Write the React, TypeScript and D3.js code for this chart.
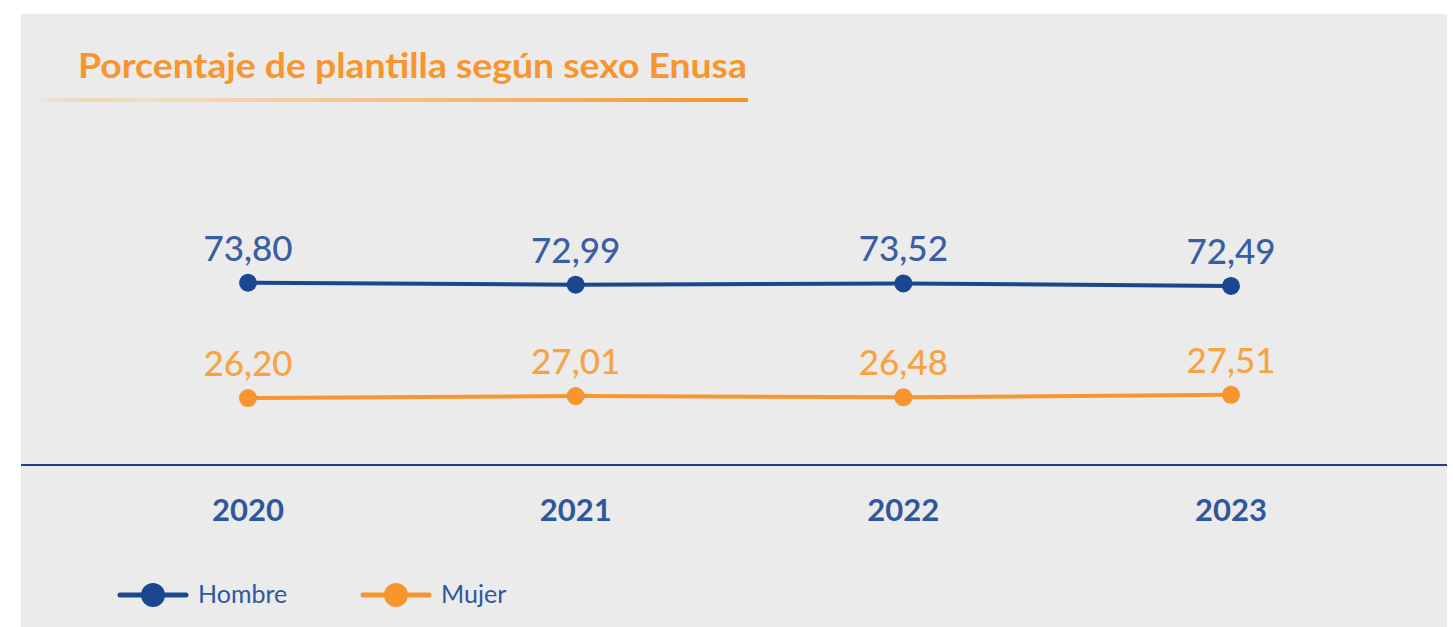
import React from "react";
import * as d3 from "d3";

const years = ["2020", "2021", "2022", "2023"];
const hombre = [73.8, 72.99, 73.52, 72.49];
const mujer = [26.2, 27.01, 26.48, 27.51];
const seriesNames = ["Hombre", "Mujer"];
const title = "Porcentaje de plantilla según sexo Enusa";

const W = 1453;
const H = 627;
const BLUE = "#1a4790";
const BLUE_TXT = "#3a5e9f";
const ORANGE = "#f7952f";
const ORANGE_TXT = "#f7a343";
const FONT = "Lato, 'Open Sans', sans-serif";

export default function App() {
  const x = d3.scalePoint<string>().domain(years).range([248, 1231]);
  const y = d3.scaleLinear().domain([0, 100]).range([461.5, 219.3]);
  const fmt = (v: number) => v.toFixed(2).replace(".", ",");
  const line = d3
    .line<number>()
    .x((_, i) => x(years[i]) as number)
    .y((d) => y(d));

  const series = [
    { name: seriesNames[0], values: hombre, color: BLUE, txt: BLUE_TXT },
    { name: seriesNames[1], values: mujer, color: ORANGE, txt: ORANGE_TXT },
  ];

  return (
    <svg
      width={W}
      height={H}
      style={{ position: "absolute", left: 0, top: 0, display: "block" }}
    >
      <defs>
        <linearGradient id="ul" x1="0" x2="1" y1="0" y2="0">
          <stop offset="0" stopColor="#f7952f" stopOpacity="0" />
          <stop offset="0.15" stopColor="#f3d9bd" stopOpacity="0.8" />
          <stop offset="1" stopColor="#f39323" stopOpacity="1" />
        </linearGradient>
      </defs>
      <rect x={0} y={0} width={W} height={H} fill="#ffffff" />
      <rect x={21} y={14} width={1426} height={H - 14} fill="#ebebeb" />
      <text
        x={78}
        y={78}
        fill="#f7952f"
        fontFamily={FONT}
        fontWeight={700}
        fontSize={35}
        textLength={669}
        lengthAdjust="spacingAndGlyphs"
      >
        {title}
      </text>
      <rect x={32} y={98} width={716} height={4} fill="url(#ul)" />

      <line x1={21} x2={1447} y1={465} y2={465} stroke="#233d8c" strokeWidth={2} />

      {years.map((yr) => (
        <text
          key={yr}
          x={x(yr)}
          y={521}
          textAnchor="middle"
          fill="#2f579b"
          fontFamily={FONT}
          fontWeight={700}
          fontSize={31}
        >
          {yr}
        </text>
      ))}

      {series.map((s) => (
        <g key={s.name}>
          <path d={line(s.values) || ""} fill="none" stroke={s.color} strokeWidth={4} />
          {s.values.map((v, i) => (
            <circle key={i} cx={x(years[i])} cy={y(v)} r={9} fill={s.color} />
          ))}
          {s.values.map((v, i) => (
            <text
              key={"t" + i}
              x={x(years[i])}
              y={y(v) - 22}
              textAnchor="middle"
              fill={s.txt}
              fontFamily={FONT}
              fontWeight={500}
              fontSize={35}
            >
              {fmt(v)}
            </text>
          ))}
        </g>
      ))}

      {series.map((s, i) => {
        const lx = 120 + i * 243;
        return (
          <g key={"lg" + s.name}>
            <line
              x1={lx}
              x2={lx + 66}
              y1={595}
              y2={595}
              stroke={s.color}
              strokeWidth={5}
              strokeLinecap="round"
            />
            <circle cx={lx + 33} cy={595} r={12} fill={s.color} />
            <text
              x={lx + 78}
              y={603}
              fill="#2f579b"
              fontFamily={FONT}
              fontSize={25}
            >
              {s.name}
            </text>
          </g>
        );
      })}
    </svg>
  );
}
